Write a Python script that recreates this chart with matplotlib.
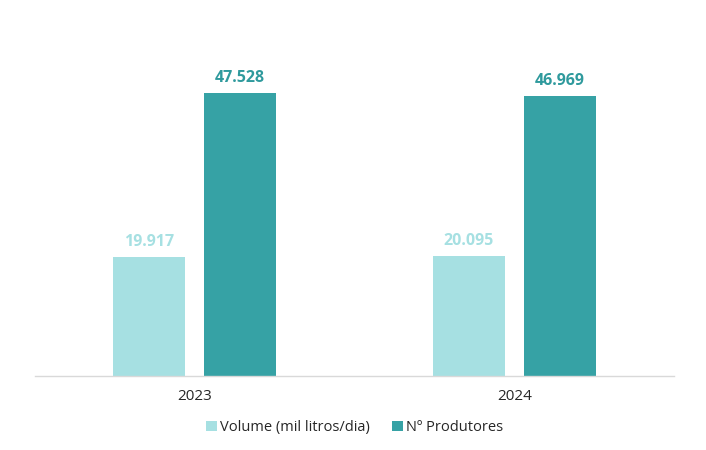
import matplotlib.pyplot as plt
import numpy as np

plt.rcParams['font.family'] = ['Open Sans', 'DejaVu Sans']

# data
anos = ['2023', '2024']
volume = [19917, 20095]        # mil litros/dia
produtores = [47528, 46969]    # Nº Produtores

cor_volume = '#A6E0E2'
cor_produtores = '#36A2A5'

def fmt(v):
    return f'{v:,}'.replace(',', '.')

fig = plt.figure(figsize=(7.06, 4.5), dpi=100)
ax = fig.add_axes([0.0496, 0.1644, 0.9051, 0.7676])

x = np.arange(len(anos))
largura = 0.225
desloc = 0.142

b1 = ax.bar(x - desloc, volume, largura, color=cor_volume, label='Volume (mil litros/dia)')
b2 = ax.bar(x + desloc, produtores, largura, color=cor_produtores, label='Nº Produtores')

for barra, v in zip(b1, volume):
    ax.annotate(fmt(v), (barra.get_x() + barra.get_width() / 2, v),
                xytext=(0, 5), textcoords='offset points', ha='center', va='bottom',
                fontsize=11.5, fontweight='bold', color=cor_volume)
for barra, v in zip(b2, produtores):
    ax.annotate(fmt(v), (barra.get_x() + barra.get_width() / 2, v),
                xytext=(0, 5), textcoords='offset points', ha='center', va='bottom',
                fontsize=11.5, fontweight='bold', color='#2F9A9D')

ax.set_xlim(-0.5, 1.5)
ax.set_ylim(0, 58000)
ax.set_xticks(x)
ax.set_xticklabels(anos, fontsize=11, color='#262626')
ax.tick_params(axis='x', length=0, pad=9)
ax.set_yticks([])

for lado in ['top', 'right', 'left']:
    ax.spines[lado].set_visible(False)
ax.spines['bottom'].set_color('#D9D9D9')
ax.spines['bottom'].set_linewidth(1)

ax.legend(loc='upper center', bbox_to_anchor=(0.5, -0.09), ncol=2, frameon=False,
          fontsize=10.5, handlelength=0.75, handleheight=0.75, handletextpad=0.2,
          columnspacing=1.5, labelcolor='#262626')

fig.savefig('out.png', dpi=100)
